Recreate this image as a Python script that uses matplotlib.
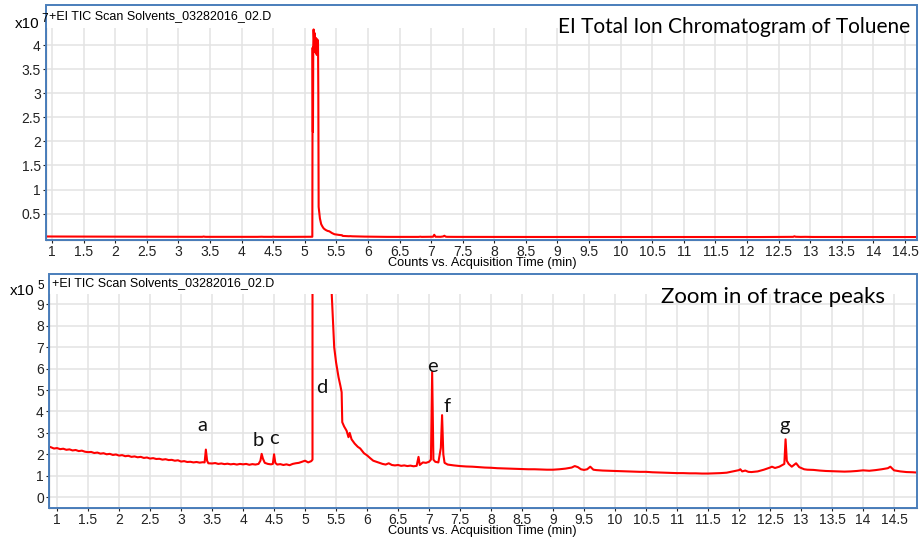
import numpy as np
import matplotlib
matplotlib.use("Agg")
import matplotlib.pyplot as plt
from matplotlib.patches import Rectangle

plt.rcParams["font.family"] = ["Liberation Sans", "DejaVu Sans"]

# acquisition time (min) and TIC counts (x10^5)
time_min = [
    0.90, 0.95, 1.00, 1.05, 1.10, 1.15, 1.20, 1.25, 1.30, 1.35, 1.40, 1.45,
    1.50, 1.55, 1.60, 1.65, 1.70, 1.75, 1.80, 1.85, 1.90, 1.95, 2.00, 2.05,
    2.10, 2.15, 2.20, 2.25, 2.30, 2.35, 2.40, 2.45, 2.50, 2.55, 2.60, 2.65,
    2.70, 2.75, 2.80, 2.85, 2.90, 2.95, 3.00, 3.05, 3.10, 3.15, 3.20, 3.25,
    3.30, 3.35, 3.38, 3.40, 3.42, 3.44, 3.50, 3.55, 3.60, 3.65, 3.70, 3.75,
    3.80, 3.85, 3.90, 3.95, 4.00, 4.05, 4.10, 4.15, 4.20, 4.25, 4.28, 4.30,
    4.32, 4.35, 4.40, 4.45, 4.48, 4.50, 4.52, 4.55, 4.60, 4.65, 4.70, 4.75,
    4.80, 4.85, 4.90, 4.95, 5.00, 5.05, 5.10, 5.12, 5.125, 5.13, 5.135, 5.14,
    5.15, 5.16, 5.17, 5.18, 5.19, 5.20, 5.21, 5.215, 5.22, 5.24, 5.26, 5.28,
    5.30, 5.33, 5.36, 5.39, 5.43, 5.45, 5.47, 5.50, 5.54, 5.57, 5.59, 5.60,
    5.63, 5.67, 5.70, 5.72, 5.75, 5.80, 5.85, 5.89, 5.95, 6.00, 6.05, 6.10,
    6.15, 6.20, 6.25, 6.30, 6.35, 6.40, 6.45, 6.50, 6.55, 6.60, 6.65, 6.70,
    6.75, 6.80, 6.83, 6.85, 6.90, 6.95, 7.00, 7.03, 7.05, 7.07, 7.10, 7.15,
    7.19, 7.21, 7.23, 7.25, 7.30, 7.40, 7.50, 7.60, 7.70, 7.80, 7.90, 8.00,
    8.10, 8.20, 8.30, 8.40, 8.50, 8.60, 8.70, 8.80, 8.90, 9.00, 9.10, 9.20,
    9.30, 9.35, 9.40, 9.45, 9.50, 9.55, 9.60, 9.65, 9.70, 9.80, 9.90, 10.00,
    10.10, 10.20, 10.30, 10.40, 10.50, 10.60, 10.70, 10.80, 10.90, 11.00,
    11.10, 11.20, 11.30, 11.40, 11.50, 11.60, 11.70, 11.80, 11.90, 12.00,
    12.02, 12.05, 12.10, 12.15, 12.20, 12.30, 12.40, 12.50, 12.53, 12.58,
    12.65, 12.70, 12.73, 12.75, 12.77, 12.80, 12.85, 12.92, 12.97, 13.05,
    13.10, 13.20, 13.30, 13.40, 13.50, 13.60, 13.70, 13.80, 13.90, 14.00,
    14.10, 14.20, 14.30, 14.40, 14.44, 14.50, 14.60, 14.70, 14.80, 14.90,
]
counts_e5 = [
    2.33, 2.27, 2.29, 2.24, 2.26, 2.21, 2.23, 2.18, 2.20, 2.15, 2.17, 2.12,
    2.10, 2.11, 2.06, 2.08, 2.03, 2.05, 2.00, 2.02, 1.97, 1.99, 1.94, 1.96,
    1.91, 1.93, 1.88, 1.90, 1.86, 1.88, 1.83, 1.85, 1.80, 1.82, 1.78, 1.79,
    1.75, 1.77, 1.73, 1.74, 1.70, 1.72, 1.66, 1.68, 1.64, 1.65, 1.62, 1.64,
    1.61, 1.63, 1.62, 2.22, 1.70, 1.58, 1.57, 1.59, 1.55, 1.57, 1.54, 1.56,
    1.53, 1.55, 1.52, 1.55, 1.53, 1.55, 1.51, 1.54, 1.52, 1.55, 1.70, 2.02,
    1.80, 1.60, 1.55, 1.53, 1.55, 2.00, 1.60, 1.52, 1.54, 1.50, 1.53, 1.49,
    1.55, 1.58, 1.60, 1.65, 1.70, 1.62, 1.68, 1.75, 395.0, 220.0, 400.0, 433.0,
    405.0, 425.0, 385.0, 415.0, 380.0, 412.0, 405.0, 300.0, 64.0, 40.0, 28.0, 23.0,
    19.0, 16.0, 14.0, 13.0, 9.5, 8.3, 7.0, 6.3, 5.6, 5.2, 4.9, 3.5,
    3.3, 3.1, 2.8, 3.0, 2.7, 2.5, 2.35, 2.27, 2.05, 1.95, 1.82, 1.70,
    1.65, 1.60, 1.55, 1.52, 1.58, 1.50, 1.48, 1.50, 1.46, 1.48, 1.45, 1.47,
    1.44, 1.46, 1.88, 1.50, 1.62, 1.60, 1.65, 1.75, 5.85, 1.75, 1.65, 1.62,
    2.30, 3.83, 2.00, 1.60, 1.52, 1.48, 1.45, 1.43, 1.42, 1.40, 1.38, 1.37,
    1.35, 1.34, 1.33, 1.32, 1.31, 1.30, 1.30, 1.29, 1.28, 1.28, 1.30, 1.33,
    1.38, 1.45, 1.40, 1.30, 1.27, 1.30, 1.42, 1.28, 1.26, 1.24, 1.23, 1.22,
    1.21, 1.20, 1.19, 1.18, 1.18, 1.16, 1.15, 1.14, 1.13, 1.12,
    1.12, 1.11, 1.11, 1.10, 1.10, 1.11, 1.12, 1.14, 1.20, 1.26,
    1.30, 1.20, 1.24, 1.18, 1.17, 1.20, 1.28, 1.38, 1.42, 1.36,
    1.42, 1.50, 1.55, 2.70, 1.70, 1.55, 1.42, 1.58, 1.40, 1.30,
    1.28, 1.27, 1.24, 1.22, 1.21, 1.20, 1.19, 1.20, 1.22, 1.25,
    1.23, 1.26, 1.30, 1.35, 1.42, 1.25, 1.20, 1.17, 1.16, 1.14,
]

peak_labels = ["a", "b", "c", "d", "e", "f", "g"]
label_time = [3.35, 4.24, 4.50, 5.27, 7.05, 7.29, 12.73]
label_counts = [3.36, 2.66, 2.76, 5.14, 6.12, 4.25, 3.36]

data_title = "+EI TIC Scan Solvents_03282016_02.D"
xlabel = "Counts vs. Acquisition Time (min)"

W, H = 919, 542
BLUE = "#4a7ebb"


def fx(px):
    return px / W


def fy(py):
    return 1 - py / H


def style_axes(ax):
    for s in ("top", "right"):
        ax.spines[s].set_visible(False)
    ax.spines["left"].set_color("#333333")
    ax.spines["bottom"].set_color("#555555")
    ax.grid(True, color="#e3e3e3", lw=1.1)
    ax.set_axisbelow(True)
    ax.tick_params(direction="out", length=2.5, width=0.8, pad=1.2,
                   labelsize=10, colors="#222222")


t = np.array(time_min)
c = np.array(counts_e5)

fig = plt.figure(figsize=(9.19, 5.42), dpi=100)

# top panel: full TIC
ax1 = fig.add_axes([fx(46), fy(240), fx(917 - 46), (240 - 28) / H])
ax1.plot(t, c / 100, color="red", lw=1.5)
ax1.set_xlim(0.905, 14.69)
ax1.set_ylim(-0.05, 4.36)
ax1.set_xticks(np.arange(1, 14.6, 0.5))
ax1.set_xticklabels(["%g" % v for v in np.arange(1, 14.6, 0.5)])
ax1.set_yticks(np.arange(0.5, 4.1, 0.5))
ax1.set_yticklabels(["%g" % v for v in np.arange(0.5, 4.1, 0.5)])
style_axes(ax1)

# bottom panel: zoom on trace peaks
ax2 = fig.add_axes([fx(49), fy(508), fx(917 - 49), (508 - 294) / H])
ax2.plot(t, c, color="red", lw=1.5)
ax2.set_xlim(0.87, 14.87)
ax2.set_ylim(-0.51, 9.49)
ax2.set_xticks(np.arange(1, 14.6, 0.5))
ax2.set_xticklabels(["%g" % v for v in np.arange(1, 14.6, 0.5)])
ax2.set_yticks(np.arange(0, 10))
style_axes(ax2)
for lab, lt, lc in zip(peak_labels, label_time, label_counts):
    ax2.text(lt, lc, lab, ha="center", va="center", fontsize=14.5,
             family=["Lato", "DejaVu Sans"], color="#111111")

# blue panel frames
fig.patches.append(Rectangle((fx(46), fy(240)), fx(871), 235 / H, fill=False,
                             ec=BLUE, lw=1.4, transform=fig.transFigure))
fig.patches.append(Rectangle((fx(49), fy(508)), fx(868), 234 / H, fill=False,
                             ec=BLUE, lw=1.4, transform=fig.transFigure))

# panel texts
fig.text(fx(49), fy(16), data_title, fontsize=9, va="center")
fig.text(fx(52), fy(283), data_title, fontsize=9, va="center")
fig.text(fx(39), fy(24), "x10", fontsize=11, ha="right", va="center")
fig.text(fx(41), fy(19), "7", fontsize=8.5, ha="left", va="center")
fig.text(fx(34), fy(291), "x10", fontsize=11, ha="right", va="center")
fig.text(fx(37), fy(286), "5", fontsize=8.5, ha="left", va="center")
fig.text(fx(482), fy(263), xlabel, fontsize=9.2, ha="center", va="center")
fig.text(fx(482), fy(531), xlabel, fontsize=9.2, ha="center", va="center")
fig.text(fx(910), fy(27), "EI Total Ion Chromatogram of Toluene", fontsize=15,
         ha="right", va="center", family=["Lato", "DejaVu Sans"])
fig.text(fx(885), fy(297), "Zoom in of trace peaks", fontsize=16,
         ha="right", va="center", family=["Lato", "DejaVu Sans"])

fig.savefig("out.png", dpi=100)
